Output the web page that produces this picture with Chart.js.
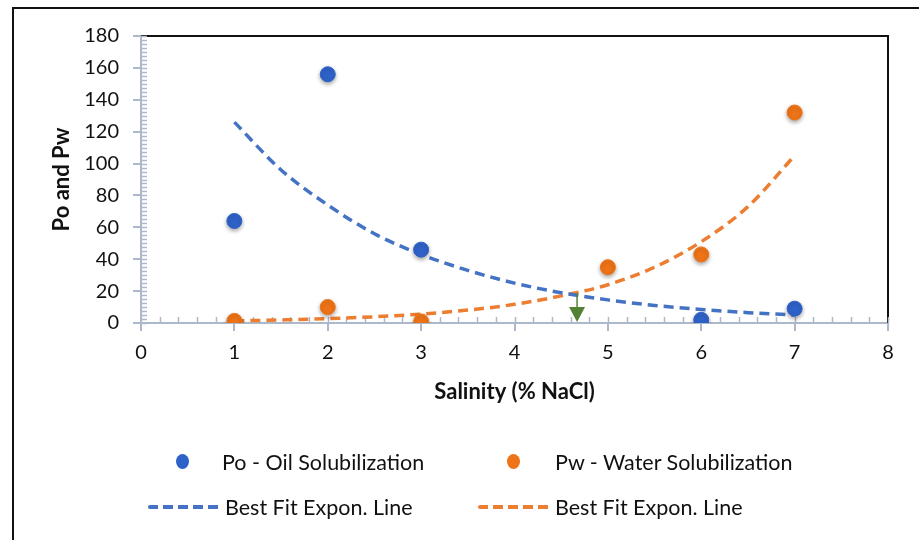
<!DOCTYPE html>
<html>
<head>
<meta charset="utf-8">
<script src="https://cdn.jsdelivr.net/npm/chart.js@4"></script>
<style>
  body { margin: 0; background: #fff; }
  #wrap { position: relative; width: 919px; height: 540px; overflow: hidden; font-family: Lato, "Open Sans", sans-serif; }
  #frame { position: absolute; left: 12px; top: 7px; width: 940px; height: 560px; border-left: 2px solid #111; border-top: 2px solid #111; }
  #chart { position: absolute; left: 0; top: 0; }
  .lg { position: absolute; font-size: 21.5px; color: #111; white-space: nowrap; line-height: 24px; }
  .dot { position: absolute; width: 13px; height: 15px; border-radius: 50%; }
  .dash { position: absolute; height: 4px; border-radius: 2px; }
</style>
</head>
<body>
<div id="wrap">
  <div id="frame"></div>
  <canvas id="chart" width="919" height="540"></canvas>
</div>
<script>
'use strict';
// scatter data (salinity % NaCl)
let poX = [1, 2, 3, 6, 7];
let poY = [64, 156, 46, 2, 9];
let pwX = [1, 2, 3, 5, 6, 7];
let pwY = [1.3, 10, 1, 35, 43, 132];

// exponential trend lines
let trendX = [1, 1.5, 2, 2.5, 3, 3.5, 4, 4.5, 5, 5.5, 6, 6.5, 7];
let trendPo = [126, 96, 74, 56, 43, 33, 25, 19, 14.5, 11, 8.5, 6.5, 5];
let trendPw = [1.3, 1.9, 2.7, 3.9, 5.6, 8.1, 11.7, 17, 24, 35, 51, 73, 105];

// green arrow where the two fits cross
let crossX = 4.67;
let crossY = 18.5;

let xTicks = [0, 1, 2, 3, 4, 5, 6, 7, 8];
let yTicks = [0, 20, 40, 60, 80, 100, 120, 140, 160, 180];

let blueDot = '#2F62C9';
let orangeDot = '#EF7417';
let blueLine = '#4472C4';
let orangeLine = '#ED7D31';
let axisGray = '#ADB9CA';

function pts(xs, ys) {
    let out = [];
    for (let i = 0; i < xs.length; i++) {
        out.push({ x: xs[i], y: ys[i] });
    }
    return out;
}

let extras = {
    id: 'extras',
    beforeDatasetDraw(chart, args) {
        if (args.meta.type === 'scatter') {
            chart.ctx.save();
            chart.ctx.shadowColor = 'rgba(0,0,0,0.35)';
            chart.ctx.shadowBlur = 4;
            chart.ctx.shadowOffsetY = 2;
        }
    },
    afterDatasetDraw(chart, args) {
        if (args.meta.type === 'scatter') chart.ctx.restore();
    },
    beforeDatasetsDraw(chart) {
        let ctx = chart.ctx;
        let a = chart.chartArea;
        let xs = chart.scales.x;
        let ys = chart.scales.y;
        ctx.save();
        // plot border, top and right
        ctx.strokeStyle = '#111';
        ctx.lineWidth = 2;
        ctx.beginPath();
        ctx.moveTo(a.left, a.top);
        ctx.lineTo(a.right, a.top);
        ctx.lineTo(a.right, a.bottom);
        ctx.stroke();
        // minor ticks
        ctx.strokeStyle = axisGray;
        ctx.lineWidth = 1.5;
        ctx.beginPath();
        for (let v = 0; v <= 180; v += 2.5) {
            let py = Math.round(ys.getPixelForValue(v)) + 0.5;
            ctx.moveTo(a.left, py);
            ctx.lineTo(a.left + 6, py);
        }
        for (let i = 0; i <= 40; i++) {
            let px = Math.round(xs.getPixelForValue(i * 0.2)) + 0.5;
            ctx.moveTo(px, a.bottom);
            ctx.lineTo(px, a.bottom - 6);
        }
        ctx.stroke();
        ctx.restore();
    },
    afterDatasetsDraw(chart) {
        let ctx = chart.ctx;
        let xs = chart.scales.x;
        let ys = chart.scales.y;
        let px = xs.getPixelForValue(crossX);
        let top = ys.getPixelForValue(crossY);
        let bot = ys.getPixelForValue(0);
        ctx.save();
        ctx.strokeStyle = '#548235';
        ctx.fillStyle = '#548235';
        ctx.lineWidth = 1.5;
        ctx.beginPath();
        ctx.moveTo(px, top);
        ctx.lineTo(px, bot - 14);
        ctx.stroke();
        ctx.beginPath();
        ctx.moveTo(px - 8, bot - 16);
        ctx.lineTo(px + 8, bot - 16);
        ctx.lineTo(px, bot - 1);
        ctx.closePath();
        ctx.fill();
        ctx.restore();
    }
};

let tickFont = { family: 'Lato', size: 20 };
let titleFont = { family: 'Lato', size: 22, weight: 'bold' };

let chart = new Chart(document.getElementById('chart'), {
    type: 'scatter',
    data: {
        datasets: [{
            label: 'Po - Oil Solubilization',
            data: pts(poX, poY),
            backgroundColor: blueDot,
            borderColor: blueDot,
            pointRadius: 7.5,
            order: 0
        }, {
            label: 'Pw - Water Solubilization',
            data: pts(pwX, pwY),
            backgroundColor: orangeDot,
            borderColor: orangeDot,
            pointRadius: 7.5,
            order: 0
        }, {
            type: 'line',
            label: 'Best Fit Expon. Line',
            data: pts(trendX, trendPo),
            borderColor: blueLine,
            borderWidth: 3.5,
            borderDash: [10, 6],
            pointRadius: 0,
            cubicInterpolationMode: 'monotone',
            fill: false,
            order: 1
        }, {
            type: 'line',
            label: 'Best Fit Expon. Line',
            data: pts(trendX, trendPw),
            borderColor: orangeLine,
            borderWidth: 3.5,
            borderDash: [10, 6],
            pointRadius: 0,
            cubicInterpolationMode: 'monotone',
            fill: false,
            order: 1
        }]
    },
    options: {
        responsive: false,
        animation: false,
        layout: { padding: { left: 0, top: 36, right: 31, bottom: 133 } },
        plugins: { legend: { display: false }, tooltip: { enabled: false } },
        scales: {
            x: {
                type: 'linear',
                min: 0,
                max: 8,
                afterBuildTicks: (s) => { s.ticks = xTicks.map(v => ({ value: v })); },
                afterFit: (s) => { s.height = 84; },
                ticks: { font: tickFont, color: '#111', padding: 10 },
                grid: { drawOnChartArea: false, color: axisGray, lineWidth: 2, tickLength: 8 },
                border: { color: axisGray, width: 2 },
                title: { display: true, text: 'Salinity (% NaCl)', font: titleFont, color: '#111', padding: { top: 0, bottom: 2 } }
            },
            y: {
                min: 0,
                max: 180,
                afterBuildTicks: (s) => { s.ticks = yTicks.map(v => ({ value: v })); },
                afterFit: (s) => { s.width = 141; },
                ticks: { font: tickFont, color: '#111', padding: 14 },
                grid: { drawOnChartArea: false, color: axisGray, lineWidth: 2, tickLength: 8 },
                border: { color: axisGray, width: 2 },
                title: { display: true, text: 'Po and Pw', font: titleFont, color: '#111', padding: { top: 49, bottom: 0 } }
            }
        }
    },
    plugins: [extras]
});

// legend, two rows by two columns like the original
let wrap = document.getElementById('wrap');
let legendSpots = [
    { mark: 'dot', mx: 176, tx: 222, y: 462 },
    { mark: 'dot', mx: 507, tx: 555, y: 462 },
    { mark: 'dash', mx: 148, tx: 225, y: 507 },
    { mark: 'dash', mx: 478, tx: 555, y: 507 }
];
chart.data.datasets.forEach(function (ds, i) {
    let spot = legendSpots[i];
    let m = document.createElement('div');
    if (spot.mark === 'dot') {
        m.className = 'dot';
        m.style.background = ds.backgroundColor;
        m.style.left = spot.mx + 'px';
        m.style.top = (spot.y - 8) + 'px';
    } else {
        m.className = 'dash';
        m.style.background = 'repeating-linear-gradient(90deg, ' + ds.borderColor + ' 0 10px, transparent 10px 15px)';
        m.style.left = spot.mx + 'px';
        m.style.width = '72px';
        m.style.top = (spot.y - 2) + 'px';
    }
    wrap.appendChild(m);
    let t = document.createElement('div');
    t.className = 'lg';
    t.textContent = ds.label;
    t.style.left = spot.tx + 'px';
    t.style.top = (spot.y - 12) + 'px';
    wrap.appendChild(t);
});
</script>
</body>
</html>
